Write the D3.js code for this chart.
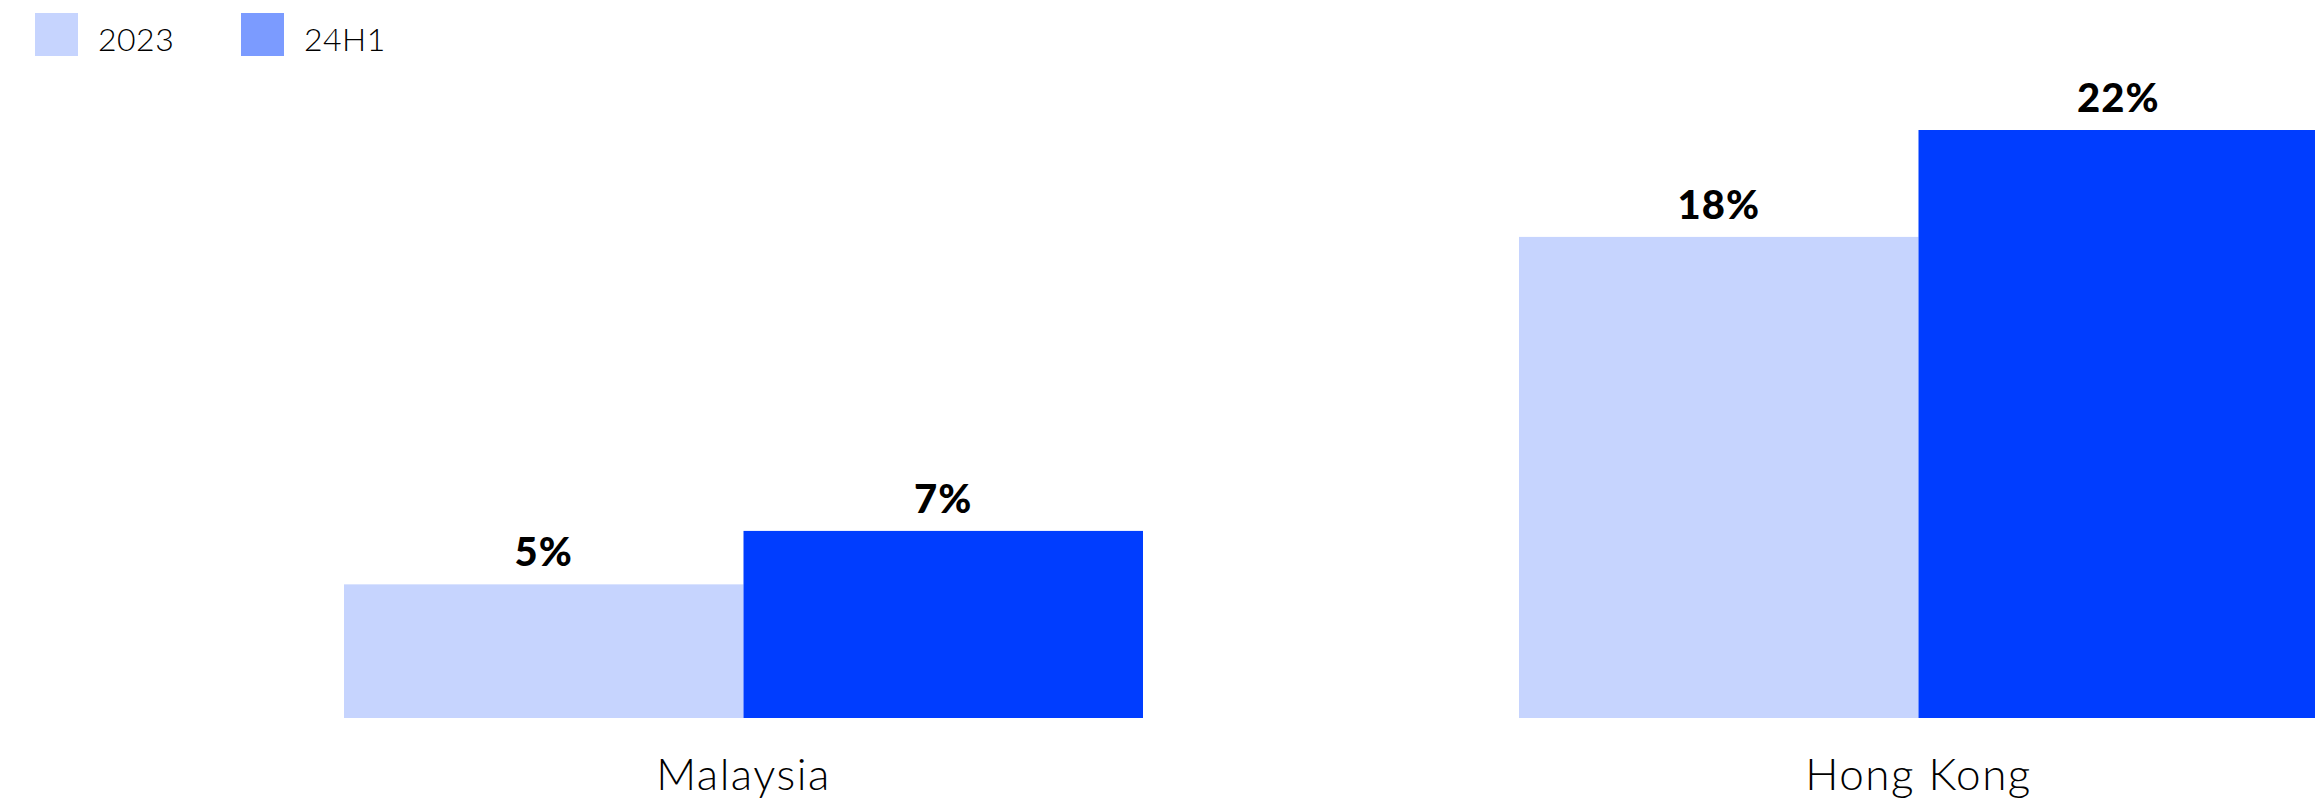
<!DOCTYPE html>
<html>
<head>
<meta charset="utf-8">
<script src="https://cdn.jsdelivr.net/npm/d3@7"></script>
<style>
  body { margin: 0; background: #fff; }
  svg { display: block; }
</style>
</head>
<body>
<svg id="drawing_region"></svg>
<script>
// data
const categories = ['Malaysia', 'Hong Kong']
const seriesNames = ['2023', '24H1']
const values2023 = [5, 18]
const values24H1 = [7, 22]
const valueLabels2023 = ['5%', '18%']
const valueLabels24H1 = ['7%', '22%']

const W = 2315, H = 802
const barColors = {'2023': '#c6d4fe', '24H1': '#003dff'}
const legendColors = {'2023': '#c6d4fe', '24H1': '#7b9bff'}

const rows = categories.map((c, i) => ({
    cat: c,
    vals: [
        {key: '2023', v: values2023[i], label: valueLabels2023[i]},
        {key: '24H1', v: values24H1[i], label: valueLabels24H1[i]}
    ]
}))

const svg = d3.select('#drawing_region')
    .attr('width', W)
    .attr('height', H)

const x0 = d3.scaleBand()
    .domain(categories)
    .range([344, 2318])
    .paddingInner(0.32)
    .paddingOuter(0)

const x1 = d3.scaleBand()
    .domain(seriesNames)
    .range([0, x0.bandwidth()])
    .padding(0)

const y = d3.scaleLinear()
    .domain([0, 22])
    .range([718, 130])

const groups = svg.append('g').selectAll('g')
    .data(rows)
    .join('g')
    .attr('transform', d => `translate(${x0(d.cat)},0)`)

groups.selectAll('rect')
    .data(d => d.vals)
    .join('rect')
    .attr('x', d => x1(d.key))
    .attr('y', d => y(d.v))
    .attr('width', x1.bandwidth())
    .attr('height', d => y(0) - y(d.v))
    .attr('fill', d => barColors[d.key])

groups.selectAll('text.val')
    .data(d => d.vals)
    .join('text')
    .attr('class', 'val')
    .attr('x', d => x1(d.key) + x1.bandwidth() / 2)
    .attr('y', d => y(d.v) - 18)
    .attr('text-anchor', 'middle')
    .attr('font-family', 'Lato, sans-serif')
    .attr('font-weight', 900)
    .attr('font-size', 40)
    .attr('letter-spacing', 1)
    .attr('fill', '#000')
    .text(d => d.label)

// category axis labels
svg.append('g').selectAll('text')
    .data(categories)
    .join('text')
    .attr('x', d => x0(d) + x0.bandwidth() / 2)
    .attr('y', 790)
    .attr('text-anchor', 'middle')
    .attr('font-family', 'Lato, sans-serif')
    .attr('font-weight', 300)
    .attr('font-size', 44)
    .attr('letter-spacing', 1.5)
    .attr('fill', '#000')
    .text(d => d)

// legend
const legend = svg.append('g').selectAll('g')
    .data(seriesNames)
    .join('g')
    .attr('transform', (d, i) => `translate(${35 + i * 206},13)`)

legend.append('rect')
    .attr('width', 43)
    .attr('height', 43)
    .attr('fill', d => legendColors[d])

legend.append('text')
    .attr('x', 63)
    .attr('y', 38)
    .attr('font-family', 'Lato, sans-serif')
    .attr('font-weight', 300)
    .attr('font-size', 32)
    .attr('letter-spacing', 0.5)
    .attr('fill', '#000')
    .text(d => d)
</script>
</body>
</html>
